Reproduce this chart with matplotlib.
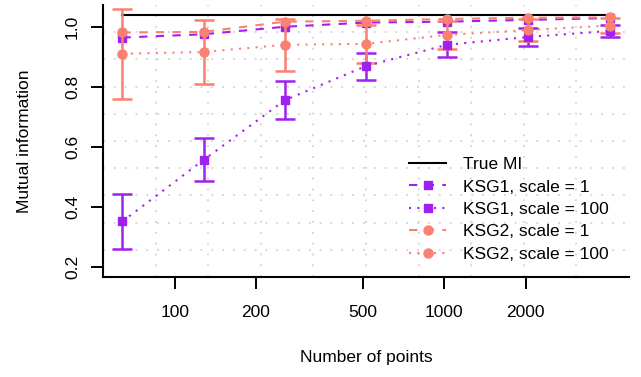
import numpy as np
import matplotlib
matplotlib.use("Agg")
import matplotlib.pyplot as plt

plt.rcParams['font.family'] = ['Liberation Sans', 'DejaVu Sans']

# sample sizes and true mutual information
n_points = [64, 128, 256, 512, 1024, 2048, 4096]
true_mi = 1.04

# KSG estimator means (scale = 1 / scale = 100) and error half-widths
ksg1_s1 = [0.965, 0.976, 1.001, 1.015, 1.018, 1.024, 1.030]
ksg1_s100 = [0.352, 0.557, 0.756, 0.870, 0.941, 0.967, 0.987]
ksg1_s100_err = [0.092, 0.072, 0.063, 0.045, 0.041, 0.030, 0.021]
ksg2_s1 = [0.982, 0.984, 1.018, 1.021, 1.027, 1.031, 1.032]
ksg2_s100 = [0.911, 0.917, 0.941, 0.944, 0.974, 0.990, 1.005]
ksg2_s100_err = [0.150, 0.108, 0.086, 0.063, 0.047, 0.037, 0.026]

purple = '#A020F0'
salmon = '#FA8072'
fs = 12.5

fig = plt.figure(figsize=(6.41, 3.77), dpi=100)
ax = fig.add_axes([103 / 641, 100 / 377, 526 / 641, 272 / 377])
ax.set_xscale('log')

# R-style limits: 4% padding around the data range
lx = np.log10([64, 4096])
px = 0.04 * (lx[1] - lx[0])
ax.set_xlim(10 ** (lx[0] - px), 10 ** (lx[1] + px))
ylo, yhi = 0.2, 1.04
py = 0.04 * (yhi - ylo)
ax.set_ylim(ylo - py, yhi + py)

# grid(10, 10): equally spaced in user coordinates
gx = np.linspace(lx[0] - px, lx[1] + px, 11)[1:-1]
gy = np.linspace(ylo - py, yhi + py, 11)[1:-1]
for g in gx:
    ax.axvline(10 ** g, color='#D3D3D3', lw=1.3, dashes=(1, 5), zorder=0)
for g in gy:
    ax.axhline(g, color='#D3D3D3', lw=1.3, dashes=(1, 5), zorder=0)

lw = 1.5
h_true, = ax.plot([n_points[0], n_points[-1]], [true_mi, true_mi], color='black', lw=lw)
h1, = ax.plot(n_points, ksg1_s1, color=purple, lw=lw, dashes=(4, 4), marker='s', ms=6)
e2 = ax.errorbar(n_points, ksg1_s100, yerr=ksg1_s100_err, color=purple, lw=lw, dashes=(1, 3),
                 marker='s', ms=6, elinewidth=1.8, capsize=7.5, capthick=1.8)
h3, = ax.plot(n_points, ksg2_s1, color=salmon, lw=lw, dashes=(4, 4), marker='o', ms=6.5)
e4 = ax.errorbar(n_points, ksg2_s100, yerr=ksg2_s100_err, color=salmon, lw=lw, dashes=(1, 3),
                 marker='o', ms=6.5, elinewidth=1.8, capsize=7.5, capthick=1.8)

ax.set_xticks([100, 200, 500, 1000, 2000])
ax.set_xticklabels(['100', '200', '500', '1000', '2000'])
ax.xaxis.set_minor_locator(matplotlib.ticker.NullLocator())
ax.set_yticks([0.2, 0.4, 0.6, 0.8, 1.0])
ax.set_yticklabels(['0.2', '0.4', '0.6', '0.8', '1.0'], rotation=90, va='center')
ax.tick_params(length=8.5, width=1.4, labelsize=fs)
ax.tick_params(axis='x', pad=12)
ax.tick_params(axis='y', pad=8)

for s in ['top', 'right']:
    ax.spines[s].set_visible(False)
for s in ['left', 'bottom']:
    ax.spines[s].set_linewidth(1.5)

ax.set_xlabel('Number of points', fontsize=fs, labelpad=21)
ax.set_ylabel('Mutual information', fontsize=fs, labelpad=24)

ax.legend([h_true, h1, e2[0], h3, e4[0]],
          ['True MI', 'KSG1, scale = 1', 'KSG1, scale = 100', 'KSG2, scale = 1', 'KSG2, scale = 100'],
          loc='upper left', bbox_to_anchor=(402 / 641, 1 - 150 / 377),
          bbox_transform=fig.transFigure, frameon=False, fontsize=fs,
          handlelength=2.15, handletextpad=0.95, labelspacing=0.42, borderaxespad=0)

fig.savefig('out.png', dpi=100)
